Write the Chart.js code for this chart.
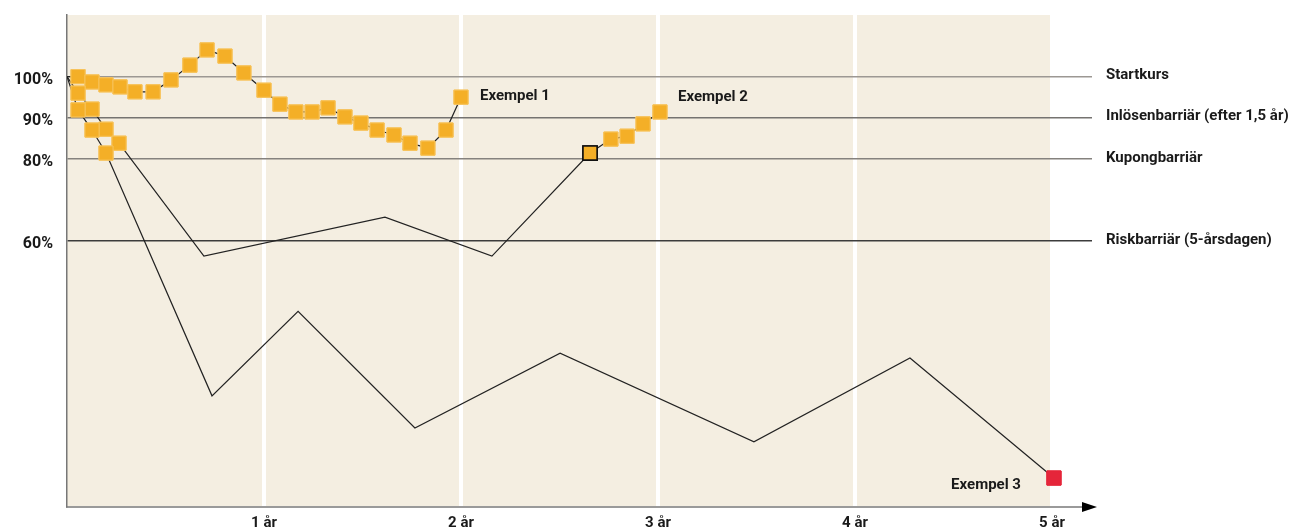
<!DOCTYPE html>
<html>
<head>
<meta charset="utf-8">
<script src="https://cdn.jsdelivr.net/npm/chart.js@4/dist/chart.umd.min.js"></script>
<style>
html, body { margin: 0; padding: 0; background: #fff; }
#wrap { width: 1296px; height: 530px; }
</style>
</head>
<body>
<div id="wrap"><canvas id="lineChart"></canvas></div>
<script>
// x = years, y = % of start price
var yearTicks = [1, 2, 3, 4, 5];
var levelTicks = [60, 80, 90, 100];
var levelNames = ['Riskbarriär (5-årsdagen)', 'Kupongbarriär', 'Inlösenbarriär (efter 1,5 år)', 'Startkurs'];
var exampleNames = ['Exempel 1', 'Exempel 2', 'Exempel 3'];

var ex1Years = [0, 0.056, 0.127, 0.198, 0.269, 0.345, 0.437, 0.528, 0.624, 0.711, 0.802, 0.898, 1.0, 1.081, 1.162, 1.244, 1.325, 1.411, 1.492, 1.574, 1.660, 1.741, 1.832, 1.924, 2.0];
var ex1Values = [100, 100, 98.7, 98.0, 97.5, 96.3, 96.3, 99.2, 102.8, 106.5, 105.0, 100.9, 96.7, 93.3, 91.4, 91.4, 92.4, 90.2, 88.7, 87.0, 85.8, 83.8, 82.6, 87.0, 95.0];

var ex2Years = [0, 0.056, 0.127, 0.198, 0.264, 0.695, 1.614, 2.157, 2.655, 2.761, 2.843, 2.924, 3.010];
var ex2Values = [100, 96.0, 92.1, 87.2, 83.8, 56.3, 65.8, 56.3, 81.4, 84.8, 85.5, 88.5, 91.4];

var ex3Years = [0, 0.056, 0.127, 0.198, 0.736, 1.173, 1.766, 2.503, 3.487, 4.279, 5.01];
var ex3Values = [100, 91.9, 87.0, 81.4, 22.3, 42.9, 14.5, 32.7, 11.1, 31.5, 2.3];

var ORANGE = '#f4af27';
var RED = '#e5253a';
var INK = '#1a1a1a';
var FONT = 'Roboto, "DejaVu Sans", sans-serif';

function toPoints(xs, ys) {
	return xs.map(function(x, i){ return {x: x, y: ys[i]}; });
}

// which points get a square
function ex1Marked(i) { return i > 0; }
function ex2Marked(i) { return (i > 0 && i <= 4) || i >= 8; }
function ex3Marked(i) { return (i > 0 && i <= 3) || i === ex3Years.length - 1; }

function lineSet(label, xs, ys, marked, fill, edge) {
	return {
		label: label,
		data: toPoints(xs, ys),
		borderColor: '#222',
		borderWidth: 1.2,
		tension: 0,
		pointStyle: 'rect',
		pointRadius: function(c){ return marked(c.dataIndex) ? 10 : 0; },
		pointHoverRadius: function(c){ return marked(c.dataIndex) ? 10 : 0; },
		pointBackgroundColor: function(c){ return fill(c.dataIndex); },
		pointBorderColor: function(c){ return edge(c.dataIndex); },
		pointBorderWidth: function(c){ return edge(c.dataIndex) === '#111' ? 1.6 : 1; }
	};
}

var lineColors = {100: '#9c9893', 90: '#757370', 80: '#85827e', 60: '#3c3c3c'};

function noPadding(scale) {
	scale.paddingTop = 0;
	scale.paddingBottom = 0;
	scale.paddingLeft = 0;
	scale.paddingRight = 0;
}

var decor = {
	id: 'decor',
	beforeDraw: function(chart) {
		var ctx = chart.ctx, a = chart.chartArea, x = chart.scales.x;
		ctx.save();
		ctx.fillStyle = '#f4eee1';
		ctx.fillRect(a.left, a.top, x.getPixelForValue(5) - a.left, a.bottom - a.top);
		ctx.restore();
	},
	afterDatasetsDraw: function(chart) {
		// squares above every line
		chart.data.datasets.forEach(function(ds, i){
			chart.getDatasetMeta(i).data.forEach(function(pt){ pt.draw(chart.ctx, chart.chartArea); });
		});
	},
	afterDraw: function(chart) {
		var ctx = chart.ctx, a = chart.chartArea, y = chart.scales.y;
		ctx.save();
		ctx.fillStyle = INK;
		ctx.font = 'bold 15px ' + FONT;
		ctx.textBaseline = 'middle';
		ctx.textAlign = 'left';
		levelTicks.forEach(function(v, i){
			ctx.fillText(levelNames[i], a.right + 14, y.getPixelForValue(v) - 1);
		});

		var p1 = chart.getDatasetMeta(0).data[ex1Years.length - 1];
		var p2 = chart.getDatasetMeta(1).data[ex2Years.length - 1];
		var p3 = chart.getDatasetMeta(2).data[ex3Years.length - 1];
		ctx.fillText(exampleNames[0], p1.x + 19, p1.y - 1);
		ctx.fillText(exampleNames[1], p2.x + 18, p2.y - 15);
		ctx.textAlign = 'right';
		ctx.fillText(exampleNames[2], p3.x - 33, p3.y + 7);

		// arrow head on the time axis
		ctx.fillStyle = '#000';
		ctx.beginPath();
		ctx.moveTo(a.right + 5, a.bottom);
		ctx.lineTo(a.right - 10, a.bottom - 5);
		ctx.lineTo(a.right - 10, a.bottom + 5);
		ctx.closePath();
		ctx.fill();
		ctx.restore();
	}
};

Chart.defaults.font.family = FONT;

var ctx = document.getElementById('lineChart').getContext('2d');

var exampleChart = new Chart(ctx,
{
	type: 'line',
	data:
	{
		datasets: [
			lineSet(exampleNames[0], ex1Years, ex1Values, ex1Marked,
				function(){ return ORANGE; },
				function(){ return '#f7c45e'; }),
			lineSet(exampleNames[1], ex2Years, ex2Values, ex2Marked,
				function(){ return ORANGE; },
				function(i){ return i === 8 ? '#111' : '#f7c45e'; }),
			lineSet(exampleNames[2], ex3Years, ex3Values, ex3Marked,
				function(i){ return i === ex3Years.length - 1 ? RED : ORANGE; },
				function(i){ return i === ex3Years.length - 1 ? RED : '#f7c45e'; })
		]
	},
	options:
	{
		responsive: true,
		maintainAspectRatio: false,
		animation: false,
		layout: { padding: { top: 15, right: 204, left: 0, bottom: 0 } },
		plugins: {
			legend: { display: false },
			tooltip: { enabled: false }
		},
		scales: {
			x: {
				type: 'linear',
				min: 0,
				max: 5.203,
				afterBuildTicks: function(scale){
					scale.ticks = yearTicks.map(function(v){ return {value: v}; });
				},
				afterFit: function(scale){ scale.height = 23; noPadding(scale); },
				grid: { color: '#ffffff', lineWidth: 4, drawTicks: false },
				border: { color: '#9a9a9a', width: 2 },
				ticks: {
					padding: 7,
					maxRotation: 0,
					autoSkip: false,
					color: INK,
					font: { size: 15, weight: 'bold' },
					callback: function(v){ return v + ' år'; }
				}
			},
			y: {
				type: 'linear',
				min: -4.75,
				max: 115,
				afterBuildTicks: function(scale){
					scale.ticks = levelTicks.map(function(v){ return {value: v}; });
				},
				afterFit: function(scale){ scale.width = 67; noPadding(scale); },
				grid: {
					drawTicks: false,
					lineWidth: 1.5,
					color: function(c){ return lineColors[c.tick.value] || 'transparent'; }
				},
				border: { color: '#777', width: 1.5 },
				ticks: {
					padding: 14,
					labelOffset: 3,
					color: INK,
					font: { size: 16, weight: 'bold' },
					callback: function(v){ return v + '%'; }
				}
			}
		}
	},
	plugins: [decor]
});
</script>
</body>
</html>
